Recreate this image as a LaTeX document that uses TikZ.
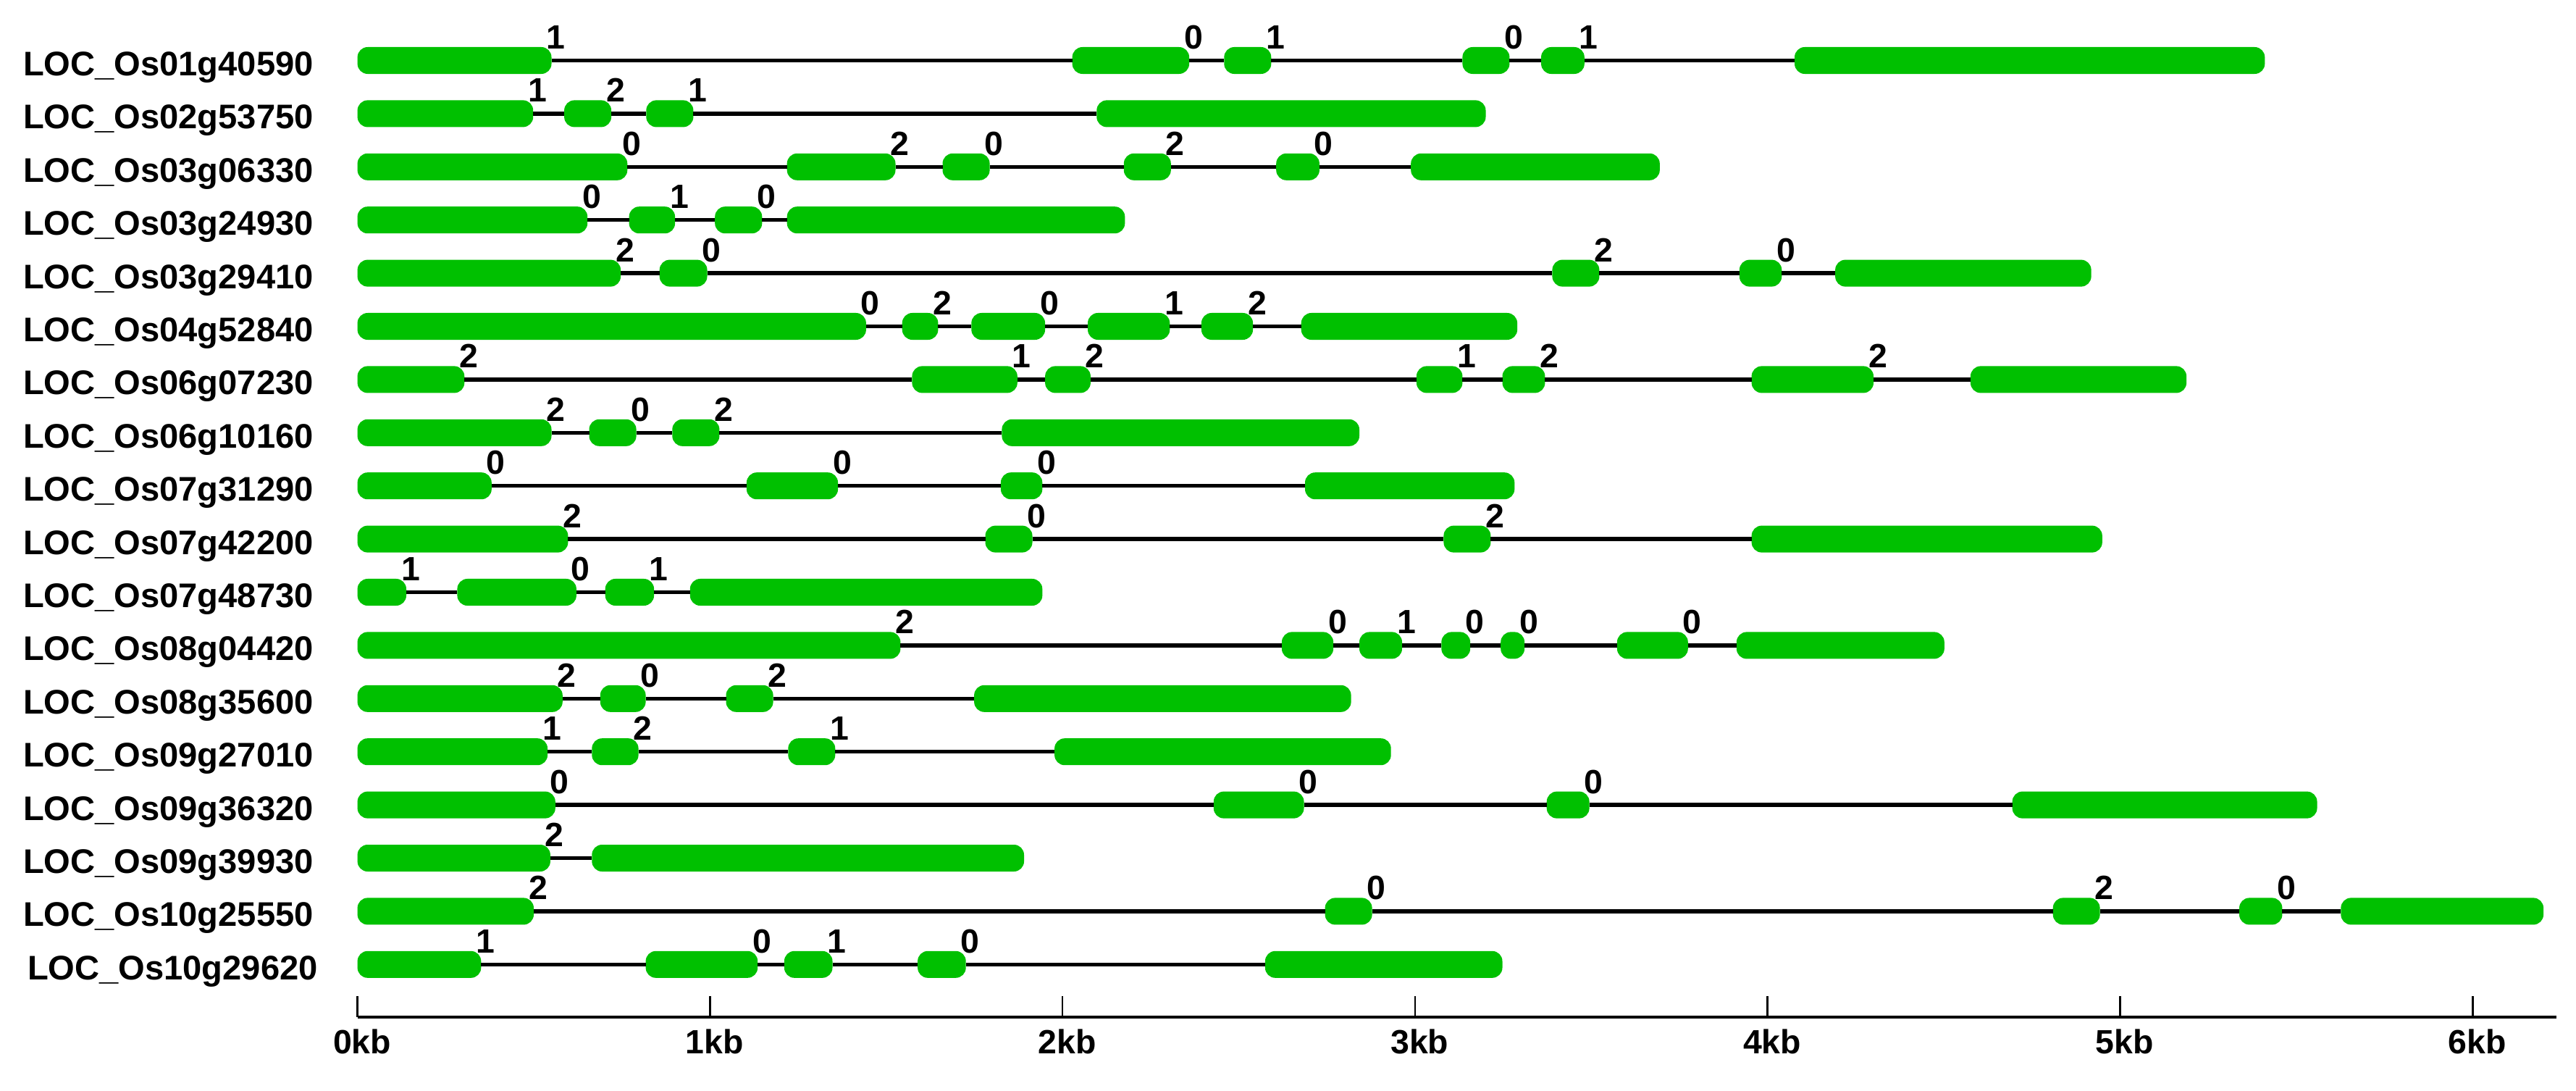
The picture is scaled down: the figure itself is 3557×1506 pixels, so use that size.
\documentclass[tikz,border=0pt]{standalone}
\usepackage{fontspec}
\setmainfont{Liberation Sans}
\definecolor{exongreen}{RGB}{0,192,0}
\tikzset{
  exonbox/.style={fill=exongreen, draw=none, rounded corners=0.14cm, inner sep=0pt, outer sep=0pt, minimum height=0.37cm},
  intron/.style={draw=black, line width=0.055cm},
  phase/.style={inner sep=0pt, outer sep=0pt, font=\fontsize{13.2}{15}\selectfont\bfseries},
  gname/.style={inner sep=0pt, outer sep=0pt, font=\fontsize{13.4}{15}\selectfont\bfseries},
  axlab/.style={inner sep=0pt, outer sep=0pt, font=\fontsize{13.2}{15}\selectfont\bfseries},
  axisline/.style={draw=black, line width=0.035cm},
  tickline/.style={draw=black, line width=0.025cm}
}
% exon with phase number after it: row, index, x1, x2, phase
\newcommand\gx[5]{%
  \pgfmathsetmacro\gw{(#4-#3)*0.01}%
  \pgfmathsetmacro\gy{83.5+(#1-1)*73.4}%
  \node[exonbox, minimum width=\gw cm] (g#1e#2) at ({(#3+#4)/2},\gy) {};
  \node[phase, anchor=base west] (g#1p#2) at ({#4-7},{\gy-16}) {#5};
}
% last exon (no phase): row, index, x1, x2
\newcommand\gl[4]{%
  \pgfmathsetmacro\gw{(#4-#3)*0.01}%
  \pgfmathsetmacro\gy{83.5+(#1-1)*73.4}%
  \node[exonbox, minimum width=\gw cm] (g#1e#2) at ({(#3+#4)/2},\gy) {};
}
% gene name: row, x, text
\newcommand\gn[3]{%
  \pgfmathsetmacro\gy{83.5+(#1-1)*73.4}%
  \node[gname, anchor=base west] (n#1) at (#2,{\gy+21}) {#3};
}
% introns: row, number of exons
\newcommand\gi[2]{%
  \foreach \k in {2,...,#2}{%
    \pgfmathtruncatemacro\kp{\k-1}%
    \draw[intron] (g#1e\kp) -- (g#1e\k);
  }%
}
\begin{document}
\begin{tikzpicture}[x=0.01cm,y=-0.01cm]
\useasboundingbox (0,0) rectangle (3557,1506);

% Row 1
\gn{1}{32}{LOC\_Os01g40590}
\gx{1}{1}{493.6}{761.5}{1}
\gx{1}{2}{1480.6}{1642.1}{0}
\gx{1}{3}{1690.3}{1755.3}{1}
\gx{1}{4}{2019.4}{2084.4}{0}
\gx{1}{5}{2128.0}{2187.8}{1}
\gl{1}{6}{2478.0}{3127.3}
\gi{1}{6}

% Row 2
\gn{2}{32}{LOC\_Os02g53750}
\gx{2}{1}{493.6}{736.2}{1}
\gx{2}{2}{779.1}{844.1}{2}
\gx{2}{3}{892.3}{957.4}{1}
\gl{2}{4}{1514.3}{2051.5}
\gi{2}{4}

% Row 3
\gn{3}{32}{LOC\_Os03g06330}
\gx{3}{1}{493.6}{866.3}{0}
\gx{3}{2}{1086.7}{1236.5}{2}
\gx{3}{3}{1301.5}{1366.6}{0}
\gx{3}{4}{1551.8}{1616.8}{2}
\gx{3}{5}{1762.2}{1821.9}{0}
\gl{3}{6}{1948.2}{2291.8}
\gi{3}{6}

% Row 4
\gn{4}{32}{LOC\_Os03g24930}
\gx{4}{1}{493.6}{811.2}{0}
\gx{4}{2}{868.6}{932.1}{1}
\gx{4}{3}{987.2}{1052.3}{0}
\gl{4}{4}{1086.7}{1553.3}
\gi{4}{4}

% Row 5
\gn{5}{32}{LOC\_Os03g29410}
\gx{5}{1}{493.6}{857.1}{2}
\gx{5}{2}{910.7}{976.5}{0}
\gx{5}{3}{2143.4}{2208.4}{2}
\gx{5}{4}{2401.8}{2460.3}{0}
\gl{5}{5}{2534.1}{2887.6}
\gi{5}{5}

% Row 6
\gn{6}{32}{LOC\_Os04g52840}
\gx{6}{1}{493.6}{1195.9}{0}
\gx{6}{2}{1245.7}{1295.4}{2}
\gx{6}{3}{1341.3}{1443.1}{0}
\gx{6}{4}{1502.0}{1615.3}{1}
\gx{6}{5}{1658.9}{1730.1}{2}
\gl{6}{6}{1796.7}{2095.1}
\gi{6}{6}

% Row 7
\gn{7}{32}{LOC\_Os06g07230}
\gx{7}{1}{493.6}{641.3}{2}
\gx{7}{2}{1259.4}{1404.8}{1}
\gx{7}{3}{1443.1}{1505.9}{2}
\gx{7}{4}{1955.9}{2019.4}{1}
\gx{7}{5}{2074.5}{2133.4}{2}
\gx{7}{6}{2418.6}{2587.0}{2}
\gl{7}{7}{2720.9}{3019.1}
\gi{7}{7}

% Row 8
\gn{8}{32}{LOC\_Os06g10160}
\gx{8}{1}{493.6}{761.5}{2}
\gx{8}{2}{813.5}{878.6}{0}
\gx{8}{3}{928.3}{993.4}{2}
\gl{8}{4}{1383.4}{1877.0}
\gi{8}{4}

% Row 9
\gn{9}{32}{LOC\_Os07g31290}
\gx{9}{1}{493.6}{678.8}{0}
\gx{9}{2}{1030.9}{1157.1}{0}
\gx{9}{3}{1381.9}{1439.3}{0}
\gl{9}{4}{1802.0}{2091.3}
\gi{9}{4}

% Row 10
\gn{10}{32}{LOC\_Os07g42200}
\gx{10}{1}{493.6}{784.4}{2}
\gx{10}{2}{1360.5}{1425.5}{0}
\gx{10}{3}{1993.4}{2058.4}{2}
\gl{10}{4}{2418.6}{2902.8}
\gi{10}{4}

% Row 11
\gn{11}{32}{LOC\_Os07g48730}
\gx{11}{1}{493.6}{561.0}{1}
\gx{11}{2}{631.4}{795.9}{0}
\gx{11}{3}{835.7}{903.1}{1}
\gl{11}{4}{952.8}{1439.3}
\gi{11}{4}

% Row 12
\gn{12}{32}{LOC\_Os08g04420}
\gx{12}{1}{493.6}{1243.4}{2}
\gx{12}{2}{1769.9}{1841.1}{0}
\gx{12}{3}{1877.0}{1936.0}{1}
\gx{12}{4}{1990.3}{2030.1}{0}
\gx{12}{5}{2072.2}{2105.1}{0}
\gx{12}{6}{2232.9}{2330.8}{0}
\gl{12}{7}{2397.8}{2684.8}
\gi{12}{7}

% Row 13
\gn{13}{32}{LOC\_Os08g35600}
\gx{13}{1}{493.6}{776.8}{2}
\gx{13}{2}{828.8}{891.6}{0}
\gx{13}{3}{1002.5}{1067.6}{2}
\gl{13}{4}{1345.1}{1865.6}
\gi{13}{4}

% Row 14
\gn{14}{32}{LOC\_Os09g27010}
\gx{14}{1}{493.6}{756.1}{1}
\gx{14}{2}{817.3}{881.6}{2}
\gx{14}{3}{1088.3}{1153.3}{1}
\gl{14}{4}{1456.1}{1920.7}
\gi{14}{4}

% Row 15
\gn{15}{32}{LOC\_Os09g36320}
\gx{15}{1}{493.6}{766.8}{0}
\gx{15}{2}{1675.8}{1800.5}{0}
\gx{15}{3}{2135.7}{2194.6}{0}
\gl{15}{4}{2778.6}{3199.5}
\gi{15}{4}

% Row 16
\gn{16}{32}{LOC\_Os09g39930}
\gx{16}{1}{493.6}{759.9}{2}
\gl{16}{2}{817.3}{1414.0}
\gi{16}{2}

% Row 17
\gn{17}{32}{LOC\_Os10g25550}
\gx{17}{1}{493.6}{737.0}{2}
\gx{17}{2}{1829.6}{1894.6}{0}
\gx{17}{3}{2834.7}{2899.6}{2}
\gx{17}{4}{3092.0}{3151.4}{0}
\gl{17}{5}{3232.3}{3512.1}
\gi{17}{5}

% Row 18
\gn{18}{38}{LOC\_Os10g29620}
\gx{18}{1}{493.6}{664.3}{1}
\gx{18}{2}{891.6}{1046.2}{0}
\gx{18}{3}{1082.9}{1149.5}{1}
\gx{18}{4}{1267.1}{1333.7}{0}
\gl{18}{5}{1746.9}{2074.5}
\gi{18}{5}

% Scale axis
\draw[axisline] (493.6,1404) -- (3530,1404);
\foreach \k in {0,...,6}{
  \draw[tickline] ({493.6+\k*486.78},1375) -- ({493.6+\k*486.78},1404);
  \node[axlab, anchor=base] (t\k) at ({500+\k*486.78},1454) {\k kb};
}
\end{tikzpicture}
\end{document}
